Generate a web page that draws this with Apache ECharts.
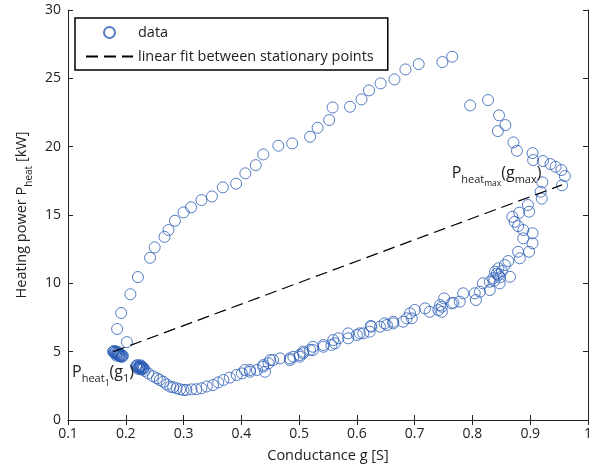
<!DOCTYPE html>
<html>
<head>
<meta charset="utf-8">
<script src="https://cdn.jsdelivr.net/npm/echarts@6/dist/echarts.min.js"></script>
<style>
html, body { margin: 0; padding: 0; background: #fff; }
#container { width: 598px; height: 468px; }
</style>
</head>
<body>
<div id="container"></div>
<script>
var dom = document.getElementById("container");
var myChart = echarts.init(dom);

// measured conductance g [S]
var gValues = [
    0.202, 0.185, 0.192, 0.208, 0.221, 0.242, 0.250, 0.267, 0.274, 0.285,
    0.300, 0.313, 0.331, 0.349, 0.368, 0.391, 0.407, 0.425, 0.438, 0.464,
    0.488, 0.519, 0.532, 0.552, 0.558, 0.588, 0.608, 0.621, 0.641, 0.665,
    0.684, 0.707, 0.748, 0.765,
    0.796, 0.827, 0.846, 0.857, 0.844, 0.871, 0.877, 0.904, 0.905, 0.922,
    0.935, 0.944, 0.954, 0.960, 0.955, 0.921, 0.918, 0.920, 0.896, 0.898,
    0.881, 0.869, 0.873, 0.879, 0.888, 0.904, 0.888, 0.904, 0.898, 0.879,
    0.882, 0.862, 0.856, 0.839, 0.845, 0.865, 0.836, 0.830, 0.847, 0.818,
    0.830, 0.813, 0.842, 0.848, 0.838, 0.851, 0.845,
    0.804, 0.806, 0.784, 0.767, 0.751, 0.778, 0.764, 0.747, 0.741, 0.747,
    0.744, 0.726, 0.718, 0.700, 0.692, 0.686, 0.695, 0.680, 0.663, 0.663,
    0.648, 0.652, 0.640, 0.624, 0.625, 0.622, 0.611, 0.605, 0.600, 0.585,
    0.585, 0.568, 0.559, 0.556, 0.562, 0.542, 0.542, 0.524, 0.524, 0.519,
    0.507, 0.507, 0.501, 0.501, 0.490, 0.484, 0.484, 0.467, 0.455, 0.450,
    0.447, 0.438, 0.438, 0.441, 0.427, 0.415, 0.415, 0.406, 0.401, 0.392,
    0.380, 0.369, 0.360, 0.351, 0.340, 0.331, 0.322, 0.314, 0.305, 0.300,
    0.294, 0.288, 0.282, 0.277, 0.271, 0.265, 0.259, 0.254, 0.247, 0.239,
    0.233,
    0.218, 0.222, 0.225, 0.228, 0.221, 0.226, 0.230, 0.224,
    0.219, 0.223, 0.227, 0.229, 0.220, 0.224, 0.231, 0.226,
    0.178, 0.182, 0.185, 0.188, 0.191, 0.194, 0.180, 0.186, 0.190, 0.184,
    0.179, 0.181, 0.183, 0.187, 0.189, 0.192, 0.195, 0.183, 0.187, 0.193
];
// measured heating power P_heat [kW]
var pValues = [
    5.70, 6.66, 7.83, 9.20, 10.46, 11.87, 12.63, 13.40, 13.90, 14.58,
    15.19, 15.56, 16.09, 16.36, 17.02, 17.29, 18.05, 18.65, 19.43, 20.07,
    20.24, 20.73, 21.38, 21.95, 22.87, 22.92, 23.46, 24.12, 24.63, 24.92,
    25.65, 26.04, 26.19, 26.58,
    23.02, 23.41, 22.29, 21.58, 21.14, 20.31, 19.70, 19.53, 19.02, 18.95,
    18.73, 18.53, 18.29, 17.85, 17.17, 17.39, 16.70, 16.20, 15.73, 15.24,
    15.17, 14.87, 14.50, 14.19, 13.90, 13.66, 13.29, 12.93, 12.31, 12.31,
    11.83, 11.63, 11.34, 10.85, 10.61, 10.48, 10.37, 10.12, 10.00, 10.00,
    9.51, 9.39, 10.70, 10.45, 10.20, 10.90, 11.10,
    9.27, 8.78, 9.27, 8.58, 8.90, 8.66, 8.54, 8.29, 8.05, 7.92,
    8.41, 7.92, 8.17, 8.05, 7.81, 7.44, 7.44, 7.19, 7.19, 7.07,
    7.07, 6.95, 6.83, 6.88, 6.83, 6.46, 6.34, 6.34, 6.22, 6.34,
    5.98, 5.98, 5.85, 5.49, 5.61, 5.36, 5.49, 5.36, 5.12, 5.12,
    4.88, 5.00, 4.63, 4.75, 4.63, 4.39, 4.51, 4.51, 4.39, 4.39,
    4.15, 3.90, 4.02, 3.53, 3.66, 3.53, 3.66, 3.66, 3.41, 3.29,
    3.10, 2.93, 2.75, 2.56, 2.45, 2.32, 2.25, 2.24, 2.20, 2.19,
    2.25, 2.32, 2.40, 2.44, 2.60, 2.80, 2.93, 3.05, 3.20, 3.41,
    3.60,
    3.95, 3.90, 3.85, 3.80, 3.75, 4.00, 3.72, 3.95,
    3.88, 3.82, 3.92, 3.86, 4.02, 3.78, 3.80, 3.70,
    5.00, 4.95, 4.85, 4.75, 4.70, 4.65, 5.05, 4.92, 4.80, 4.70,
    4.98, 4.90, 4.82, 4.78, 4.68, 4.62, 4.70, 5.02, 4.97, 4.75
];
// stationary points joined by the linear fit
var fitG = [0.1785, 0.955];
var fitP = [5.0, 17.2];
var xTicks = [0.1, 1, 0.1];
var yTicks = [0, 30, 5];

var scatterData = [];
for (var i = 0; i < gValues.length; i++) {
    scatterData.push([gValues[i], pValues[i]]);
}
var fitData = [[fitG[0], fitP[0]], [fitG[1], fitP[1]]];

var font = 'Open Sans';
var txt = '#222';
var blue = '#2a5db5';
// subscripts: everything sits on the line bottom, the bigger parts lifted by padding
var subRich = {
    p: { fontSize: 16, fontFamily: font, color: txt, verticalAlign: 'bottom', padding: [0, 0, 7, 0] },
    s: { fontSize: 11, fontFamily: font, color: txt, verticalAlign: 'bottom', padding: [0, 0, 3, 0] },
    ss: { fontSize: 8.5, fontFamily: font, color: txt, verticalAlign: 'bottom' }
};

function axisStyle(showLabel) {
    return {
        axisLine: { show: true, lineStyle: { color: '#222', width: 1 } },
        axisTick: { show: true, inside: true, length: 5, lineStyle: { color: '#222' } },
        axisLabel: { show: showLabel, fontSize: 14, fontFamily: font, color: txt, margin: 7 },
        splitLine: { show: false }
    };
}

option = {
    animation: false,
    backgroundColor: '#fff',
    grid: { left: 68, right: 10, top: 10, bottom: 48 },
    legend: {
        orient: 'vertical',
        left: 75,
        top: 18,
        padding: [7, 14, 6, 10],
        itemGap: 9,
        itemWidth: 47,
        itemHeight: 11,
        borderColor: '#000',
        borderWidth: 1.5,
        backgroundColor: '#fff',
        textStyle: { fontSize: 14.5, fontFamily: font, color: txt },
        data: [
            { name: 'data' },
            { name: 'linear fit between stationary points', itemStyle: { color: 'rgba(0,0,0,0)', borderWidth: 0 } }
        ]
    },
    xAxis: [
        Object.assign({
            type: 'value', min: xTicks[0], max: xTicks[1], interval: xTicks[2],
            position: 'bottom',
            name: 'Conductance g [S]', nameLocation: 'middle', nameGap: 28,
            nameTextStyle: { fontSize: 14.5, fontFamily: font, color: txt }
        }, axisStyle(true)),
        Object.assign({
            type: 'value', min: xTicks[0], max: xTicks[1], interval: xTicks[2],
            position: 'top'
        }, axisStyle(false))
    ],
    yAxis: [
        Object.assign({
            type: 'value', min: yTicks[0], max: yTicks[1], interval: yTicks[2],
            position: 'left',
            name: '{a|Heating power P}{b|heat}{a| [kW]}', nameLocation: 'middle', nameGap: 31,
            nameTextStyle: {
                rich: {
                    a: { fontSize: 14.5, fontFamily: font, color: txt, verticalAlign: 'bottom', padding: [0, 0, 5, 0] },
                    b: { fontSize: 10, fontFamily: font, color: txt, verticalAlign: 'bottom' }
                }
            }
        }, axisStyle(true)),
        Object.assign({
            type: 'value', min: yTicks[0], max: yTicks[1], interval: yTicks[2],
            position: 'right'
        }, axisStyle(false))
    ],
    series: [
        {
            name: 'data',
            type: 'scatter',
            symbol: 'circle',
            symbolSize: 11,
            itemStyle: { color: 'rgba(255,255,255,0)', borderColor: blue, borderWidth: 1 },
            emphasis: { disabled: true },
            data: scatterData,
            z: 2
        },
        {
            name: 'linear fit between stationary points',
            type: 'line',
            symbol: 'none',
            lineStyle: { color: '#000', width: 1.2, type: [12, 6] },
            itemStyle: { color: '#000' },
            data: fitData,
            z: 3,
            markPoint: {
                symbol: 'circle',
                symbolSize: 0,
                label: { show: true, position: 'right', distance: 0, rich: subRich },
                data: [
                    { coord: [0.107, 3.2], label: { formatter: '{p|P}{s|heat}{ss|1}{p|(g}{s|1}{p|)}' } },
                    { coord: [0.764, 17.8], label: { formatter: '{p|P}{s|heat}{ss|max}{p|(g}{s|max}{p|)}' } }
                ]
            }
        }
    ]
};
if (option && typeof option === "object") {
    myChart.setOption(option, true);
}
</script>
</body>
</html>
